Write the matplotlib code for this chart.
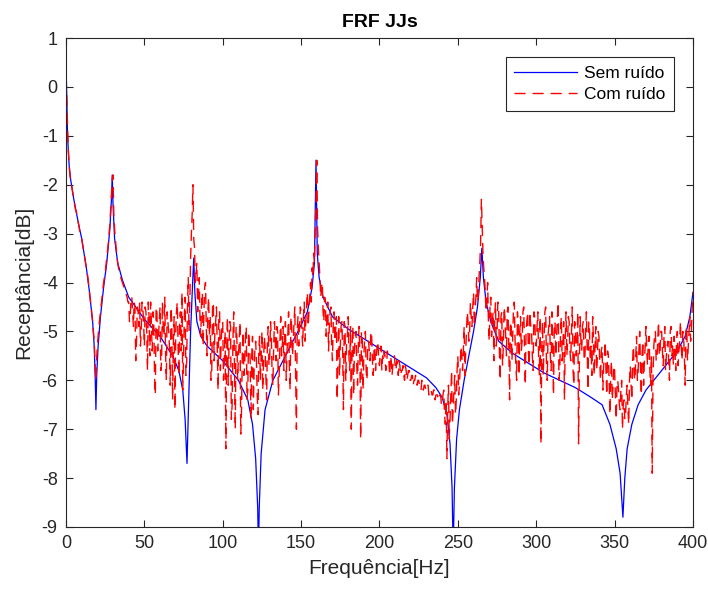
import numpy as np
import matplotlib
matplotlib.use('Agg')
import matplotlib.pyplot as plt

# Curva sem ruído
freq_sem = [0.3, 1, 2, 3, 5, 8, 10, 13, 15, 17, 18, 18.6, 19.1, 19.6, 20.5, 22, 24, 26, 28, 29, 29.5,
            30, 31, 33, 36, 40, 50, 60, 68, 72, 74.5, 76, 77.2, 78.2, 79.5, 80.8, 81.5, 82.2, 83.5, 86,
            90, 100, 110, 116, 119, 121, 122.3, 122.8, 123.3, 124.5, 127, 132, 140, 148, 154, 157,
            158.5, 159.5, 160.3, 161.5, 164, 170, 180, 190, 200, 210, 220, 230, 236, 240, 243, 245,
            246.3, 247, 247.8, 249.2, 251, 254, 257, 260, 262.5, 264.3, 265.3, 266.3, 268, 271, 276,
            285, 295, 305, 315, 325, 335, 342, 347, 351, 353.5, 355.3, 356.5, 358, 361, 365, 370,
            375, 380, 385, 390, 395, 398, 400]
db_sem = [0.1, -1.0, -1.6, -1.9, -2.3, -2.8, -3.1, -3.7, -4.2, -4.8, -5.3, -5.9, -6.6, -5.9, -5.3, -4.7,
          -4.1, -3.6, -2.9, -2.3, -1.8, -2.4, -3.1, -3.6, -3.95, -4.3, -4.75, -5.1, -5.5, -5.8, -6.2,
          -6.8, -7.7, -6.5, -5.0, -4.0, -3.5, -4.2, -4.8, -5.1, -5.3, -5.6, -6.0, -6.4, -6.9, -7.6,
          -8.6, -9.5, -8.6, -7.5, -6.6, -6.0, -5.5, -5.0, -4.6, -4.1, -3.6, -1.5, -3.4, -3.9, -4.3,
          -4.7, -4.95, -5.15, -5.35, -5.55, -5.75, -5.95, -6.15, -6.35, -6.7, -7.3, -8.2, -9.5, -8.2,
          -7.2, -6.6, -6.0, -5.5, -5.0, -4.5, -3.9, -3.3, -3.9, -4.4, -4.8, -5.2, -5.45, -5.65, -5.85,
          -6.0, -6.15, -6.35, -6.5, -6.9, -7.4, -7.9, -8.8, -8.0, -7.4, -6.9, -6.5, -6.2, -6.0, -5.8,
          -5.6, -5.4, -5.1, -4.7, -4.2]

# Curva com ruído nos Hz inteiros, 0 a 400 Hz (valores estimados da figura)
db_com = [
    0.2, -0.8, -1.6, -1.9, -2.1, -2.3, -2.5, -2.6, -2.8, -3.0,
    -3.1, -3.3, -3.5, -3.7, -3.9, -4.2, -4.5, -4.8, -5.2, -6.0,
    -5.3, -4.9, -4.6, -4.3, -4.0, -3.8, -3.5, -3.2, -2.8, -2.2,
    -1.8, -2.9, -3.3, -3.6, -3.8, -3.9, -4.0, -4.1, -4.2, -4.3,
    -4.4, -4.7, -4.3, -4.9, -4.5, -5.2, -4.6, -4.4, -5.0, -4.5,
    -5.3, -4.6, -5.8, -4.7, -4.4, -5.4, -4.8, -6.3, -4.6, -5.1,
    -4.5, -5.6, -4.9, -4.3, -6.0, -4.8, -5.3, -4.5, -6.4, -4.7,
    -5.0, -4.4, -5.9, -4.6, -4.2, -5.5, -4.3, -5.6, -3.9, -4.4,
    -3.0, -2.0, -3.3, -3.8, -4.6, -3.9, -5.1, -4.2, -4.6, -4.0,
    -5.5, -4.3, -4.7, -5.8, -4.4, -5.0, -4.5, -6.2, -4.6, -5.2,
    -4.8, -5.6, -7.4, -4.7, -5.3, -4.9, -6.5, -4.6, -7.0, -5.1,
    -5.5, -4.8, -6.6, -5.0, -5.7, -4.9, -6.2, -5.3, -6.8, -5.1,
    -5.8, -5.2, -6.3, -5.4, -6.0, -5.0, -5.7, -5.3, -6.4, -4.9,
    -5.5, -5.1, -6.1, -4.8, -5.6, -5.0, -5.9, -4.7, -5.3, -5.8,
    -4.8, -5.4, -4.6, -6.2, -4.9, -5.2, -4.5, -7.0, -4.7, -4.9,
    -4.6, -5.3, -4.4, -4.8, -4.2, -4.6, -4.0, -3.7, -3.4, -2.9,
    -1.5, -3.3, -3.9, -4.1, -4.6, -4.3, -5.1, -4.4, -4.9, -4.5,
    -5.6, -4.6, -5.0, -6.4, -4.7, -5.3, -4.8, -6.6, -4.9, -5.2,
    -4.7, -5.8, -7.0, -4.9, -5.4, -5.0, -6.1, -4.9, -7.2, -5.2,
    -5.5, -5.0, -6.0, -5.2, -5.6, -5.1, -5.9, -5.3, -5.5, -5.2,
    -5.7, -5.3, -5.5, -5.4, -5.8, -5.4, -5.6, -5.5, -5.9, -5.6,
    -5.7, -5.6, -5.9, -5.7, -5.8, -5.7, -6.0, -5.8, -5.9, -5.8,
    -6.0, -5.9, -6.0, -5.9, -6.1, -6.0, -6.1, -6.0, -6.2, -6.1,
    -6.2, -6.1, -6.2, -6.2, -6.3, -6.2, -6.3, -6.3, -6.4, -6.3,
    -6.5, -6.2, -6.9, -7.6, -6.1, -6.8, -5.8, -6.6, -5.9, -6.4,
    -5.5, -6.1, -5.3, -5.8, -4.9, -5.4, -4.6, -5.2, -4.4, -4.9,
    -4.2, -4.6, -3.9, -4.3, -3.6, -2.3, -3.4, -3.9, -4.6, -4.0,
    -5.2, -4.3, -4.8, -5.6, -4.4, -5.0, -4.5, -6.0, -4.6, -5.3,
    -4.7, -5.5, -4.5, -6.4, -4.8, -5.1, -4.4, -5.7, -4.6, -5.9,
    -4.7, -5.2, -4.5, -6.1, -4.8, -5.4, -4.6, -5.0, -5.8, -4.7,
    -5.3, -4.6, -5.9, -7.3, -4.8, -5.2, -4.5, -6.0, -4.9, -5.5,
    -4.6, -6.3, -4.8, -5.1, -4.4, -5.8, -4.7, -5.3, -6.4, -4.6,
    -5.2, -4.8, -5.6, -4.5, -6.1, -4.9, -5.3, -7.3, -4.7, -5.4,
    -4.8, -5.6, -4.6, -6.2, -5.0, -5.3, -4.7, -5.9, -4.9, -5.5,
    -5.1, -6.0, -5.3, -5.7, -5.2, -6.3, -5.5, -6.7, -5.6, -6.1,
    -5.8, -6.8, -6.0, -6.5, -6.2, -7.0, -6.4, -6.7, -6.1, -6.9,
    -5.7, -6.4, -5.3, -6.0, -5.1, -5.8, -5.0, -6.3, -5.2, -5.6,
    -4.9, -5.7, -5.1, -6.1, -7.9, -5.3, -5.0, -5.6, -4.8, -5.4,
    -5.0, -5.7, -4.9, -5.5, -5.2, -6.0, -4.9, -5.3, -5.1, -5.8,
    -5.0, -5.4, -4.8, -5.6, -5.1, -6.1, -4.9, -5.3, -4.7, -5.0,
    -4.2]

# Curva com ruído nos meios Hz, 0.5 a 399.5 Hz (valores estimados da figura)
db_com_meio = [
    -0.2, -1.3, -1.8, -2.0, -2.2, -2.4, -2.55, -2.7, -2.9, -3.05,
    -3.2, -3.4, -3.6, -3.8, -4.05, -4.35, -4.65, -5.0, -5.6, -5.6,
    -5.1, -4.75, -4.45, -4.15, -3.9, -3.65, -3.35, -3.0, -2.5, -1.9,
    -2.6, -3.1, -3.45, -3.7, -3.85, -3.95, -4.05, -4.15, -4.25, -4.4,
    -4.8, -4.3, -4.6, -4.4, -5.6, -4.5, -4.9, -5.3, -4.4, -4.8,
    -4.5, -5.0, -4.4, -5.5, -4.9, -4.6, -5.9, -4.5, -5.4, -4.8,
    -5.8, -4.4, -5.1, -5.4, -4.6, -5.0, -6.1, -4.8, -5.2, -6.6,
    -4.6, -5.3, -4.8, -5.4, -6.2, -4.7, -5.9, -4.5, -5.0, -3.5,
    -2.6, -3.1, -4.0, -3.6, -4.3, -4.8, -4.4, -5.3, -4.1, -4.9,
    -4.6, -5.1, -6.0, -4.5, -5.6, -4.8, -5.4, -4.7, -5.8, -4.9,
    -6.0, -5.0, -5.4, -6.1, -4.8, -6.8, -5.2, -5.7, -4.9, -6.0,
    -5.2, -7.1, -5.4, -5.9, -5.1, -6.4, -5.0, -5.6, -5.5, -6.6,
    -5.4, -5.6, -6.7, -5.1, -5.5, -6.2, -5.1, -5.9, -5.2, -5.7,
    -4.8, -5.9, -5.3, -5.2, -4.9, -6.3, -5.2, -5.5, -4.9, -5.1,
    -6.0, -5.1, -5.7, -4.7, -5.5, -4.8, -5.9, -5.0, -5.3, -4.5,
    -5.0, -4.7, -5.2, -4.5, -4.9, -4.3, -4.4, -3.9, -3.6, -2.4,
    -2.9, -3.6, -4.3, -4.0, -4.8, -4.4, -4.7, -5.4, -4.6, -5.3,
    -4.8, -5.2, -4.7, -5.5, -5.9, -4.9, -5.4, -4.8, -6.0, -5.1,
    -5.5, -4.9, -5.3, -6.3, -5.1, -5.7, -5.2, -5.6, -5.0, -6.2,
    -5.2, -5.8, -5.3, -5.4, -5.0, -5.6, -5.4, -5.8, -5.3, -5.6,
    -5.4, -5.8, -5.6, -5.5, -5.7, -5.5, -5.9, -5.6, -5.7, -5.5,
    -5.8, -5.7, -5.6, -5.9, -5.8, -5.9, -5.7, -6.0, -5.8, -6.0,
    -5.9, -6.1, -6.0, -6.0, -6.0, -6.1, -6.2, -6.1, -6.1, -6.2,
    -6.1, -6.3, -6.2, -6.3, -6.2, -6.4, -6.3, -6.4, -6.3, -6.5,
    -6.3, -6.7, -6.4, -6.6, -7.2, -6.3, -6.9, -6.2, -6.7, -5.8,
    -6.3, -5.7, -5.5, -5.4, -5.9, -5.0, -4.8, -5.0, -4.7, -4.5,
    -4.9, -4.3, -4.4, -3.9, -3.2, -2.8, -3.7, -4.2, -4.4, -4.8,
    -4.5, -5.1, -4.6, -4.7, -5.3, -4.4, -5.4, -4.7, -5.7, -4.5,
    -5.1, -4.6, -5.3, -4.9, -5.6, -4.5, -5.2, -6.0, -4.8, -5.0,
    -5.4, -4.6, -5.3, -5.0, -4.6, -5.7, -4.9, -5.5, -4.6, -5.2,
    -4.9, -5.5, -4.7, -5.4, -5.9, -4.6, -5.6, -5.1, -4.7, -5.8,
    -5.2, -4.9, -5.5, -4.7, -6.0, -5.0, -5.6, -4.8, -5.2, -5.5,
    -4.7, -5.4, -5.0, -5.8, -4.8, -5.5, -4.6, -5.7, -5.2, -4.9,
    -5.5, -5.0, -5.4, -4.8, -5.6, -5.9, -5.2, -5.3, -5.8, -5.0,
    -5.6, -5.4, -6.2, -5.5, -5.8, -5.4, -6.0, -5.9, -6.4, -5.7,
    -6.3, -6.1, -6.2, -6.6, -6.0, -6.5, -6.8, -6.3, -6.6, -6.0,
    -6.1, -5.6, -5.9, -5.5, -6.0, -5.4, -5.7, -5.5, -6.1, -5.3,
    -5.4, -5.2, -5.8, -5.5, -5.9, -5.1, -5.6, -5.2, -5.5, -5.0,
    -5.4, -5.1, -5.8, -5.3, -5.6, -5.0, -5.5, -5.7, -5.4, -5.2,
    -5.7, -5.2, -5.3, -5.0, -5.5, -5.0, -5.6, -5.0, -5.2, -4.5]

# junta inteiros e meios Hz na ordem da frequência
freq_com = np.arange(0, 400.5, 0.5)
db_com_total = np.empty(len(freq_com))
db_com_total[0::2] = db_com
db_com_total[1::2] = db_com_meio

plt.rcParams['font.family'] = ['Liberation Sans', 'DejaVu Sans']
plt.rcParams['axes.unicode_minus'] = False
fig = plt.figure(figsize=(7.08, 5.94), dpi=100)
ax = fig.add_axes([0.0932, 0.1128, 0.8856, 0.8232])

ax.plot(freq_sem, db_sem, color='blue', lw=0.9, label='Sem ruído')
ax.plot(freq_com, db_com_total, color='red', lw=1.0, ls=(0, (8, 5)), label='Com ruído')

ax.set_xlim(0, 400)
ax.set_ylim(-9, 1)
ax.set_xticks(np.arange(0, 401, 50))
ax.set_yticks(np.arange(-9, 2, 1))
ax.tick_params(direction='in', top=True, right=True, labelsize=13, colors='0.15',
               length=5, pad=6)
for s in ax.spines.values():
    s.set_color('0.15')
ax.set_xlabel('Frequência[Hz]', fontsize=15, color='0.15', labelpad=5)
ax.set_ylabel('Receptância[dB]', fontsize=15, color='0.15', labelpad=6)
ax.set_title('FRF JJs', fontsize=14, fontweight='bold', pad=8)

leg = ax.legend(loc='upper right', fontsize=12.5, fancybox=False, framealpha=1,
                edgecolor='0.15', handlelength=3.6, handletextpad=0.4,
                labelspacing=0.35, borderpad=0.5, borderaxespad=1.1)
leg.get_frame().set_linewidth(0.8)

fig.savefig('out.png', dpi=100)
